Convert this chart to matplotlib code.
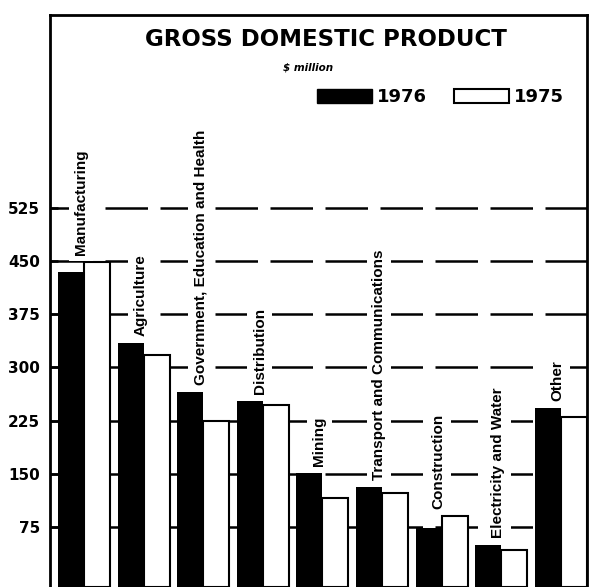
import numpy as np
import matplotlib
matplotlib.use("Agg")
import matplotlib.pyplot as plt
from matplotlib.patches import Patch

# ---- data ----
categories = ["Manufacturing", "Agriculture", "Government, Education and Health",
              "Distribution", "Mining", "Transport and Communications",
              "Construction", "Electricity and Water", "Other"]
gdp_1976 = [435, 334, 265, 253, 151, 131, 73, 49, 243]
gdp_1975 = [448, 317, 224, 247, 116, 123, 91, 42, 230]
yticks = [75, 150, 225, 300, 375, 450, 525]
series_labels = ["1976", "1975"]

W, H = 592, 587
fig = plt.figure(figsize=(W / 100, H / 100), dpi=100)
# axes box in pixels: left 50, right 587, top 15, bottom 587
ax = fig.add_axes([50 / W, 0, (587 - 50) / W, 1 - 15 / H])

YMIN, YMAX = -9.6, 796.8
ax.set_ylim(YMIN, YMAX)
ax.set_xlim(-0.57, 8.44)

x = np.arange(len(categories))
w = 0.436
v76 = np.array(gdp_1976, dtype=float)
v75 = np.array(gdp_1975, dtype=float)
ax.bar(x - w / 2, v76 - YMIN, bottom=YMIN, width=w, color="black",
       edgecolor="black", linewidth=0, zorder=3)
ax.bar(x + w / 2, v75 - YMIN, bottom=YMIN, width=w, color="white",
       edgecolor="black", linewidth=1.5, zorder=3)

# dashed gridlines
for t in yticks:
    ax.axhline(t, color="black", linewidth=1.8, dashes=(17, 5), zorder=1)

# category labels
for i, (cat, a, b) in enumerate(zip(categories, v76, v75)):
    ax.annotate(cat, xy=(i - 0.05, max(a, b)), xytext=(0, 5),
                textcoords="offset points", rotation=90, ha="center",
                va="bottom", fontsize=11, fontweight="bold",
                family=["Liberation Sans", "DejaVu Sans"],
                bbox=dict(boxstyle="square,pad=0.35", fc="white", ec="none"),
                zorder=4)

# axes styling
for s in ["left", "top", "right"]:
    ax.spines[s].set_linewidth(2.0)
ax.spines["bottom"].set_visible(False)
ax.set_yticks(yticks)
ax.set_yticklabels([str(t) for t in yticks], fontsize=11, fontweight="bold")
ax.tick_params(axis="y", direction="in", length=6, width=1.8, pad=7)
ax.set_xticks([])

# title & subtitle
fig.text(326 / W, 1 - 40 / H, "GROSS DOMESTIC PRODUCT", ha="center",
         va="center", fontsize=16.5, fontweight="bold")
fig.text(308 / W, 1 - 68 / H, "\\$ million", ha="center", va="center",
         fontsize=7.5, fontweight="bold", style="italic")

# legend
handles = [Patch(facecolor="black", edgecolor="black"),
           Patch(facecolor="white", edgecolor="black", linewidth=1.5)]
fs = 13
px = fs * 100 / 72
leg = fig.legend(handles, series_labels, loc="upper left",
                 bbox_to_anchor=(317 / W, 1 - 88 / H), ncol=2, frameon=False,
                 prop=dict(size=fs, weight="bold"), handlelength=55 / px,
                 handleheight=15 / px, handletextpad=5 / px,
                 columnspacing=27 / px, borderpad=0, borderaxespad=0)

fig.savefig("out.png", dpi=100)
